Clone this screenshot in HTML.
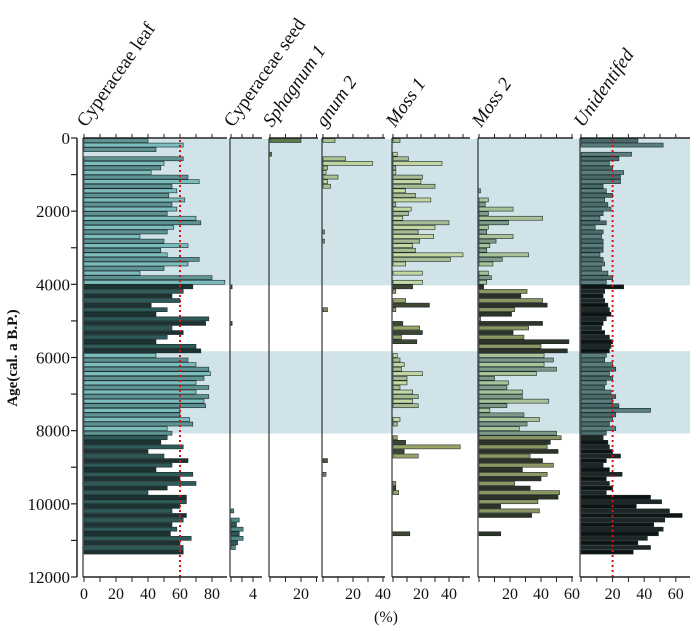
<!DOCTYPE html>
<html><head><meta charset="utf-8">
<style>
html,body{margin:0;padding:0;background:#fff;}
svg{display:block;}
svg text{font-family:"Liberation Serif","Times New Roman",serif;}
</style></head>
<body>
<svg id="chart" width="700" height="631" viewBox="0 0 700 631" xmlns="http://www.w3.org/2000/svg"></svg>
<script>
const ages = [];
for (let i = 0; i < 91; i++) ages.push(i * 125);
const bandRanges = [[0, 4000], [5800, 8050]];
const yTicks = [0, 2000, 4000, 6000, 8000, 10000, 12000];
const leafVals = [40,62,45,0,62,50,48,42,65,72,55,58,53,63,55,58,52,70,73,56,52,35,50,65,48,52,72,65,50,35,80,88,
68,62,55,60,42,52,45,78,76,55,62,52,45,70,
73,45,65,70,78,79,75,70,78,70,78,75,76,60,60,66,68,52,55,
52,48,62,40,50,65,55,45,68,60,70,52,40,64,64,60,55,64,62,55,58,54,67,60,62,62];
const seedVals = [0,0,0,0,0,0,0,0,0,0,0,0,0,0,0,0,0,0,0,0,0,0,0,0,0,0,0,0,0,0,0,0,0.2,0,0,0,0,0,0,0,0.2,0,0,0,0,0,0,0,0,0,0,0,0,0,0,0,0,0,0,0,0,0,0,0,0,0,0,0,0,0,0,0,0,0,0,0,0,0,0,0,0,0.5,0,1.5,1,2.2,1.5,2.2,1.2,0.8,0];
const sph1Vals = [20,0,0,1].concat(new Array(87).fill(0));
const sph2Vals = new Array(91).fill(0);
[[0,8],[4,15],[5,33],[6,3],[7,2],[8,10],[9,3],[10,5],[20,1],[22,1],[37,3],[70,3],[73,2]].forEach(p=>sph2Vals[p[0]]=p[1]);
const moss1Vals = new Array(91).fill(0);
[[0,5],[3,3],[4,11],[5,35],[6,2],[7,2],[8,21],[9,20],[10,30],[11,9],[12,16],[13,27],[14,2],[15,13],[16,11],[17,7],[18,40],[19,30],[20,18],[21,29],[22,19],[23,14],[24,16],[25,50],[26,41],[27,9],[29,21],[31,21],[32,14],[33,2],[35,9],[36,26],[37,2],[40,7],[41,19],[42,21],[43,6],[44,17],[47,3],[48,5],[49,8],[50,6],[51,21],[52,10],[53,10],[54,5],[55,14],[56,18],[57,14],[58,18],[61,5],[62,3],[65,3],[66,9],[67,48],[68,8],[69,18],[75,2],[76,2],[77,4],[86,12]].forEach(p=>moss1Vals[p[0]]=p[1]);
const moss2Vals = [0,0,0,0,0,0,0,0,0,0,0,1,0,6,4,22,6,41,19,6,5,22,11,7,5,32,15,9,0,6,8,5,3,31,27,41,44,23,21,1,41,32,22,29,58,40,57,42,48,42,50,37,10,19,18,28,28,45,18,7,29,39,31,26,50,53,46,44,51,33,41,48,28,44,40,23,33,52,51,38,14,39,34,0,0,0,14,0,0,0,0];
const unidVals = [36,52,0,32,24,18,20,27,25,25,14,16,20,15,17,19,14,12,16,9,14,13,14,14,14,12,14,15,13,17,20,16,27,15,14,15,17,18,19,16,14,13,15,18,20,19,18,16,15,20,22,18,20,16,15,19,22,20,24,44,22,20,18,22,16,14,17,18,20,25,16,14,18,26,16,18,20,16,44,51,35,56,64,53,46,52,49,42,36,44,33];
const NS = "http://www.w3.org/2000/svg";
const svg = document.getElementById('chart');
const Y0 = 138, Y1 = 577;
function yScale(a){ return Y0 + a * (Y1 - Y0) / 12000; }
function mk(tag, attrs, parent){ const e = document.createElementNS(NS, tag); for (const k in attrs) e.setAttribute(k, attrs[k]); (parent||svg).appendChild(e); return e; }
function inBand(a){ return bandRanges.some(r => a >= r[0] && a < r[1]); }

bandRanges.forEach((r,bi)=>{
  const b = mk('rect',{x:83,y:yScale(r[0])+1,width:607,height:yScale(r[1])-yScale(r[0]),fill:'#cfe3e8'});
  
  
});

const panels = [
 {name:'cyperaceae-leaf', title:'Cyperaceae leaf', italic:false, x0:84, x1:227, scale:1.6, vals:leafVals, ticks:[0,20,40,60,80], minor:10, max:90, colIn:['#5f9393','#7cbcbc'], colOut:['#1d3333','#2f5a5a'], ref:60},
 {name:'cyperaceae-seed', title:'Cyperaceae seed', italic:false, x0:231, x1:262, scale:5.5, vals:seedVals, ticks:[4], minor:2, max:5.5, colIn:['#5f9393','#7cbcbc'], colOut:['#2f5a5a','#4e8a8a']},
 {name:'sphagnum-1', title:'Sphagnum 1', italic:true, x0:270, x1:318, scale:1.55, vals:sph1Vals, ticks:[20], minor:10, max:31, colIn:['#5d7a4e','#6f8c5e'], colOut:['#5d7a4e','#6f8c5e']},
 {name:'sphagnum-2', title:'gnum 2', italic:true, x0:323, x1:385, scale:1.5, vals:sph2Vals, ticks:[20,40], minor:10, max:41, colIn:['#a9c290','#c0d4a0'], colOut:['#4c5a3c','#7a8a5a']},
 {name:'moss-1', title:'Moss 1', italic:true, x0:393, x1:470, scale:1.4, vals:moss1Vals, ticks:[20,40], minor:10, max:55, colIn:['#a6bc92','#c4d6a2'], colOut:['#3e4632','#9aa468']},
 {name:'moss-2', title:'Moss 2', italic:true, x0:479, x1:573, scale:1.55, vals:moss2Vals, ticks:[20,40,60], minor:10, max:61, colIn:['#7f9a88','#a9c29a'], colOut:['#2e3328','#8c9662']},
 {name:'unidentified', title:'Unidentifed', italic:true, x0:581, x1:690, scale:1.58, vals:unidVals, ticks:[20,40,60], minor:10, max:69, colIn:['#4a6b6b','#5a7e7e'], colOut:['#0e1414','#1e2626'], ref:20},
];

panels.forEach(p=>{
  const g = mk('g',{});
  
  
  const xs = v => p.x0 + v * p.scale;
  p.vals.forEach((v,i)=>{
    if (v <= 0) return;
    const a = ages[i];
    const c = inBand(a) ? p.colIn[i%2] : p.colOut[i%2];
    const r = mk('rect',{x:p.x0, y:yScale(a)+0.5, width:Math.max(1, xs(Math.min(v,p.max)) - p.x0), height:4, fill:c, stroke:'#1a2a2a', 'stroke-width':0.6}, g);
    
    
  });
  if (p.ref !== undefined){
    const l = mk('line',{x1:xs(p.ref),x2:xs(p.ref),y1:Y0+2,y2:Y1,stroke:'#e01010','stroke-width':2,'stroke-dasharray':'2,3'}, g);
    
    
  }
  mk('line',{x1:p.x0-1,x2:p.x0-1,y1:Y0,y2:Y1,stroke:'#333','stroke-width':1.2}, g);
  mk('line',{x1:p.x0-1,x2:p.x1,y1:Y0,y2:Y0,stroke:'#222','stroke-width':1.5}, g);
  mk('line',{x1:p.x0-1,x2:p.x1,y1:Y1,y2:Y1,stroke:'#222','stroke-width':1.5}, g);
  for (let v = 0; xs(v) <= p.x1 + 0.5; v += p.minor){
    mk('line',{x1:xs(v),x2:xs(v),y1:Y0,y2:Y0-4,stroke:'#222','stroke-width':1}, g);
    mk('line',{x1:xs(v),x2:xs(v),y1:Y1,y2:Y1+5,stroke:'#222','stroke-width':1}, g);
  }
  p.ticks.forEach(v=>{
    const t = mk('text',{x:xs(v),y:599,'font-size':16,'text-anchor':'middle',fill:'#111'}, g);
    t.textContent = v;
    
    
  });
  const tt = mk('text',{x:0,y:0,'font-size':19,fill:'#111','font-style':p.italic?'italic':'normal',transform:'translate('+(p.x0+2)+',128) rotate(-55)'}, g);
  tt.textContent = p.title;
  
  
});

const ya = mk('g',{});


mk('line',{x1:77,x2:77,y1:Y0,y2:Y1,stroke:'#222','stroke-width':1.5}, ya);
for (let a = 0; a <= 12000; a += 1000){
  mk('line',{x1:71,x2:77,y1:yScale(a),y2:yScale(a),stroke:'#222','stroke-width':1.2}, ya);
}
yTicks.forEach(a=>{
  const t = mk('text',{x:70,y:yScale(a)+6,'font-size':17,'text-anchor':'end',fill:'#111'}, ya);
  t.textContent = a;
  
  
});
const yt = mk('text',{x:0,y:0,'font-size':15,'font-weight':'bold','text-anchor':'middle',fill:'#111',transform:'translate(17,358) rotate(-90)'});
yt.textContent = 'Age(cal. a B.P.)';


const xt = mk('text',{x:386,y:622,'font-size':16,'text-anchor':'middle',fill:'#111'});
xt.textContent = '(%)';


</script>
</body></html>
